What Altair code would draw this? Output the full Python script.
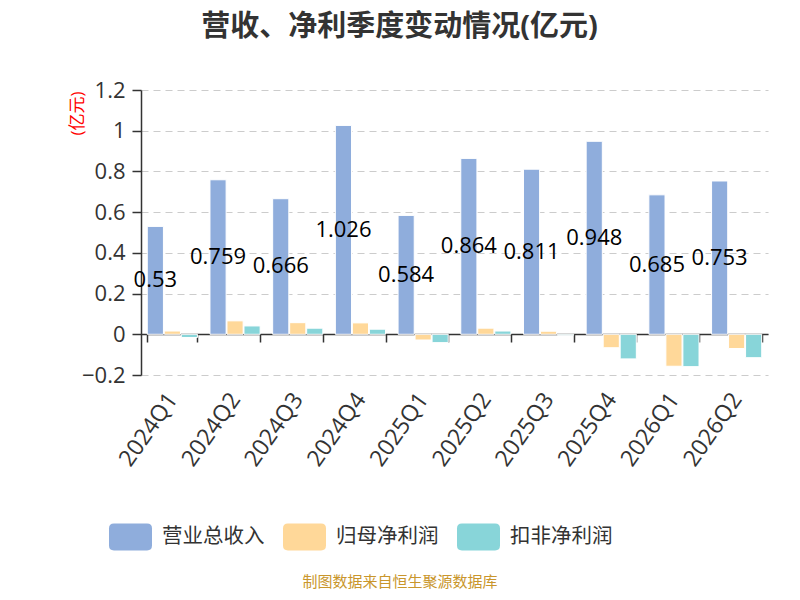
import altair as alt
import pandas as pd

quarters = ["2024Q1", "2024Q2", "2024Q3", "2024Q4", "2025Q1",
            "2025Q2", "2025Q3", "2025Q4", "2026Q1", "2026Q2"]
series = ["营业总收入", "归母净利润", "扣非净利润"]
revenue = [0.53, 0.759, 0.666, 1.026, 0.584, 0.864, 0.811, 0.948, 0.685, 0.753]
parent_profit = [0.016, 0.066, 0.057, 0.056, -0.028, 0.030, 0.015, -0.066, -0.157, -0.070]
deducted_profit = [-0.016, 0.041, 0.030, 0.025, -0.041, 0.016, -0.005, -0.121, -0.159, -0.115]
colors = ["#8faddc", "#ffd899", "#88d5d9"]
y_ticks = [-0.2, 0, 0.2, 0.4, 0.6, 0.8, 1.0, 1.2]
title_text = "营收、净利季度变动情况(亿元)"
unit_text = "(亿元)"
source_text = "制图数据来自恒生聚源数据库"

rows = []
for name, vals in zip(series, [revenue, parent_profit, deducted_profit]):
    for q, v in zip(quarters, vals):
        rows.append({"quarter": q, "series": name, "value": v})
df = pd.DataFrame(rows)
rev_df = df[df["series"] == series[0]].copy()

FONT = "Open Sans, Noto Sans CJK SC, sans-serif"
W, H = 627, 285
y_dom = [-0.2, 1.2]
zero_offset = -round(H * (0 - y_dom[0]) / (y_dom[1] - y_dom[0]))

x_enc = alt.X(
    "quarter:N", sort=quarters,
    scale=alt.Scale(domain=quarters, paddingInner=0.2, paddingOuter=0.1),
    axis=alt.Axis(
        title=None, offset=zero_offset, domain=True, domainColor="#333333",
        domainWidth=1.5, ticks=True, tickBand="extent", tickSize=8,
        tickColor="#333333", tickWidth=1.5, labelAngle=-55,
        labelAlign="right", labelBaseline="middle",
        labelPadding=-zero_offset + 12, labelFontSize=23, labelColor="#333333",
        labelFont=FONT, grid=False,
    ),
)
xoff_enc = alt.XOffset("series:N", sort=series,
                       scale=alt.Scale(domain=series, paddingInner=0.05))
y_enc = alt.Y(
    "value:Q",
    scale=alt.Scale(domain=y_dom, nice=False, zero=False),
    axis=alt.Axis(
        values=y_ticks, labelExpr="format(datum.value, '.1~f')",
        title=unit_text, titleColor="red", titleFontSize=17,
        titleFontWeight="normal", titleFont=FONT, titleAngle=-90,
        titleX=-64, titleY=1, titleAlign="right", titleBaseline="middle",
        domain=True, domainColor="#333333", domainWidth=1.5,
        ticks=True, tickSize=9, tickColor="#333333", tickWidth=1.5,
        labelFontSize=22, labelColor="#333333", labelFont=FONT, labelPadding=7,
        grid=True, gridDash=[7, 5], gridColor="#cccccc", gridWidth=1.2,
    ),
)

legend_symbol = ("M-0.77,-0.628 L0.77,-0.628 Q1,-0.628 1,-0.4 L1,0.4 "
                 "Q1,0.628 0.77,0.628 L-0.77,0.628 Q-1,0.628 -1,0.4 "
                 "L-1,-0.4 Q-1,-0.628 -0.77,-0.628 Z")

bars = alt.Chart(df).mark_bar(stroke="white", strokeWidth=1).encode(
    x=x_enc,
    xOffset=xoff_enc,
    y=y_enc,
    color=alt.Color(
        "series:N", sort=series,
        scale=alt.Scale(domain=series, range=colors),
        legend=alt.Legend(
            title=None, orient="none", direction="horizontal",
            legendX=-32, legendY=425, symbolType=legend_symbol,
            symbolSize=1849, symbolStrokeWidth=0, symbolOpacity=1,
            labelFontSize=20.5, labelColor="#333333", labelFont=FONT,
            labelOffset=10, columnPadding=18,
        ),
    ),
)

labels = alt.Chart(rev_df).transform_calculate(
    mid="datum.value / 2"
).mark_text(fontSize=22, color="black", font=FONT,
            align="center", baseline="middle").encode(
    x=alt.X("quarter:N", sort=quarters),
    xOffset=xoff_enc,
    y=alt.Y("mid:Q"),
    text=alt.Text("value:Q", format="~g"),
)

source = alt.Chart(pd.DataFrame({"t": [source_text]})).mark_text(
    fontSize=15, color="#c9962c", font=FONT, align="center", baseline="middle"
).encode(x=alt.value(259), y=alt.value(492), text="t:N")

chart = alt.layer(bars, labels, source).properties(
    width=W, height=H,
    autosize=alt.AutoSizeParams(type="none"),
    padding={"left": 133, "top": 82, "right": 24, "bottom": 217},
    title=alt.TitleParams(
        title_text, fontSize=29, fontWeight="bold", color="#333333",
        font=FONT, anchor="middle", dx=-55, offset=37,
    ),
).configure_view(stroke=None)

chart.save("out.html", embed_options={"renderer": "svg", "actions": False})
